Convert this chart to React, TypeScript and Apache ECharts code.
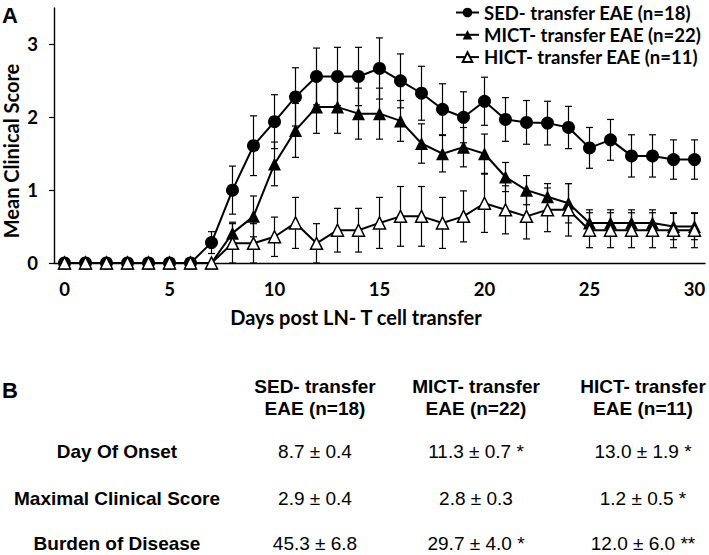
import React, { useEffect, useRef } from "react";
import * as echarts from "echarts";

// ---- data ----
const days = [0, 1, 2, 3, 4, 5, 6, 7, 8, 9, 10, 11, 12, 13, 14, 15, 16, 17, 18, 19, 20, 21, 22, 23, 24, 25, 26, 27, 28, 29, 30];

const sedMean = [0, 0, 0, 0, 0, 0, 0, 0.28, 1.0, 1.61, 1.94, 2.28, 2.56, 2.56, 2.56, 2.67, 2.5, 2.33, 2.11, 2.0, 2.22, 1.97, 1.93, 1.92, 1.86, 1.58, 1.69, 1.47, 1.47, 1.42, 1.42];
const sedSem = [0, 0, 0, 0, 0, 0, 0, 0.15, 0.33, 0.41, 0.37, 0.4, 0.39, 0.4, 0.4, 0.42, 0.37, 0.37, 0.35, 0.35, 0.33, 0.3, 0.3, 0.3, 0.29, 0.28, 0.28, 0.29, 0.29, 0.27, 0.27];

const mictMean = [0, 0, 0, 0, 0, 0, 0, 0, 0.41, 0.64, 1.36, 1.82, 2.14, 2.14, 2.05, 2.05, 1.95, 1.64, 1.5, 1.59, 1.5, 1.18, 1.0, 0.91, 0.82, 0.55, 0.55, 0.55, 0.55, 0.5, 0.5];
const mictSem = [0, 0, 0, 0, 0, 0, 0, 0, 0.15, 0.28, 0.3, 0.37, 0.36, 0.36, 0.35, 0.35, 0.28, 0.27, 0.25, 0.27, 0.27, 0.2, 0.2, 0.18, 0.27, 0.18, 0.18, 0.18, 0.18, 0.18, 0.18];

const hictMean = [0, 0, 0, 0, 0, 0, 0, 0, 0.27, 0.27, 0.36, 0.55, 0.27, 0.45, 0.45, 0.55, 0.64, 0.64, 0.55, 0.64, 0.82, 0.73, 0.64, 0.73, 0.73, 0.45, 0.45, 0.45, 0.45, 0.45, 0.45];
const hictSem = [0, 0, 0, 0, 0, 0, 0, 0, 0.27, 0.27, 0.27, 0.35, 0.27, 0.3, 0.3, 0.35, 0.41, 0.41, 0.35, 0.35, 0.4, 0.33, 0.31, 0.3, 0.36, 0.24, 0.24, 0.24, 0.24, 0.24, 0.24];

const seriesNames = ["SED- transfer EAE (n=18)", "MICT- transfer EAE (n=22)", "HICT- transfer EAE (n=11)"];
const yTicks = [0, 1, 2, 3];
const xLabelStep = 5;
const xTitle = "Days post LN- T cell transfer";
const yTitle = "Mean Clinical Score";

const tableHeaders = ["SED- transfer\nEAE (n=18)", "MICT- transfer\nEAE (n=22)", "HICT- transfer\nEAE (n=11)"];
const tableRowLabels = ["Day Of Onset", "Maximal Clinical Score", "Burden of Disease"];
const tableValues = [
  ["8.7 ± 0.4", "11.3 ± 0.7 *", "13.0 ± 1.9 *"],
  ["2.9 ± 0.4", "2.8 ± 0.3", "1.2 ± 0.5 *"],
  ["45.3 ± 6.8", "29.7 ± 4.0 *", "12.0 ± 6.0 **"],
];

// ---- layout / style ----
const CHART_FONT = "Lato";
const TABLE_FONT = "'Liberation Sans', Arial";
const colX = [315, 476, 643];
const rowLabelX = 117;
const rowY = [451, 498, 543];
const headerY = 397;

function errorData(mean: number[], sem: number[]) {
  const out: number[][] = [];
  mean.forEach((m, i) => {
    if (sem[i] > 0) out.push([i, Math.max(0, m - sem[i]), m + sem[i]]);
  });
  return out;
}

function errorSeries(mean: number[], sem: number[], z: number) {
  return {
    type: "custom",
    silent: true,
    z,
    data: errorData(mean, sem),
    encode: { x: 0, y: [1, 2] },
    renderItem: (params: any, api: any) => {
      const x = api.value(0);
      const lo = api.coord([x, api.value(1)]);
      const hi = api.coord([x, api.value(2)]);
      const w = 3.5;
      const style = { stroke: "#000", lineWidth: 1.2 };
      return {
        type: "group",
        children: [
          { type: "line", shape: { x1: lo[0], y1: lo[1], x2: hi[0], y2: hi[1] }, style },
          { type: "line", shape: { x1: hi[0] - w, y1: hi[1], x2: hi[0] + w, y2: hi[1] }, style },
          { type: "line", shape: { x1: lo[0] - w, y1: lo[1], x2: lo[0] + w, y2: lo[1] }, style },
        ],
      };
    },
  };
}

function textEl(text: string, x: number, y: number, size: number, bold: boolean, align = "center", vAlign = "middle", lineHeight?: number, family = TABLE_FONT) {
  return {
    type: "text",
    x,
    y,
    silent: true,
    style: {
      text,
      fill: "#000",
      fontSize: size,
      fontWeight: bold ? "bold" : "normal",
      fontFamily: family,
      align,
      verticalAlign: vAlign,
      textAlign: align,
      textVerticalAlign: vAlign,
      lineHeight,
    },
  };
}

export default function App() {
  const ref = useRef<HTMLDivElement>(null);

  useEffect(() => {
    document.body.style.margin = "0";
    const chart = echarts.init(ref.current!, null, { renderer: "svg" });

    const graphics: any[] = [];
    graphics.push(textEl("A", 2, 4, 22, true, "left", "top"));
    graphics.push(textEl("B", 2, 390, 22, true, "left", "middle"));
    graphics.push({ ...textEl(yTitle, 11, 151, 20, true, "center", "middle", undefined, CHART_FONT), rotation: Math.PI / 2 });
    tableHeaders.forEach((h, j) => graphics.push(textEl(h, colX[j], headerY, 19, true, "center", "middle", 22)));
    tableRowLabels.forEach((r, i) => {
      graphics.push(textEl(r, rowLabelX, rowY[i], 19, true));
      tableValues[i].forEach((v, j) => graphics.push(textEl(v, colX[j], rowY[i], 19, false)));
    });

    const axisText = { color: "#000", fontFamily: CHART_FONT, fontWeight: "bold", fontSize: 18.5 };
    const titleText = { color: "#000", fontFamily: CHART_FONT, fontWeight: "bold", fontSize: 20 };

    chart.setOption({
      animation: false,
      backgroundColor: "#fff",
      grid: { left: 54, right: 4, top: 8, bottom: 292, containLabel: false, outerBoundsMode: "none" },
      legend: {
        data: seriesNames,
        orient: "vertical",
        left: 455,
        top: 3,
        padding: 0,
        itemGap: 3.3,
        itemWidth: 23,
        itemHeight: 12,
        textStyle: { ...axisText, fontSize: 18.5, lineHeight: 19 },
      },
      xAxis: {
        type: "category",
        data: days.map(String),
        boundaryGap: true,
        axisLine: { lineStyle: { color: "#000", width: 1.4 } },
        axisTick: { show: false },
        axisLabel: { ...axisText, margin: 16, interval: (i: number) => i % xLabelStep === 0 },
        name: xTitle,
        nameLocation: "middle",
        nameGap: 44,
        nameTextStyle: { ...titleText, padding: [0, 47, 0, 0] },
        splitLine: { show: false },
      },
      yAxis: {
        type: "value",
        min: 0,
        max: 3.5,
        axisLine: { show: true, lineStyle: { color: "#000", width: 1.4 } },
        axisTick: { show: true, length: 5, customValues: yTicks, lineStyle: { color: "#000", width: 1.2 } },
        axisLabel: { ...axisText, margin: 16, customValues: yTicks },
        splitLine: { show: false },
      },
      graphic: graphics,
      series: [
        errorSeries(sedMean, sedSem, 1),
        errorSeries(mictMean, mictSem, 1),
        errorSeries(hictMean, hictSem, 1),
        {
          type: "line",
          name: seriesNames[0],
          data: sedMean,
          symbol: "circle",
          symbolSize: 13,
          showAllSymbol: true,
          itemStyle: { color: "#000" },
          lineStyle: { color: "#000", width: 2 },
          z: 3,
        },
        {
          type: "line",
          name: seriesNames[1],
          data: mictMean,
          symbol: "triangle",
          symbolSize: 13,
          showAllSymbol: true,
          itemStyle: { color: "#000" },
          lineStyle: { color: "#000", width: 2 },
          z: 4,
        },
        {
          type: "line",
          name: seriesNames[2],
          data: hictMean,
          symbol: "triangle",
          symbolSize: 12,
          showAllSymbol: true,
          itemStyle: { color: "#fff", borderColor: "#000", borderWidth: 1.5 },
          lineStyle: { color: "#000", width: 2 },
          z: 5,
        },
      ],
    });
    return () => chart.dispose();
  }, []);

  return <div ref={ref} style={{ position: "absolute", left: 0, top: 0, width: 709, height: 555 }} />;
}
